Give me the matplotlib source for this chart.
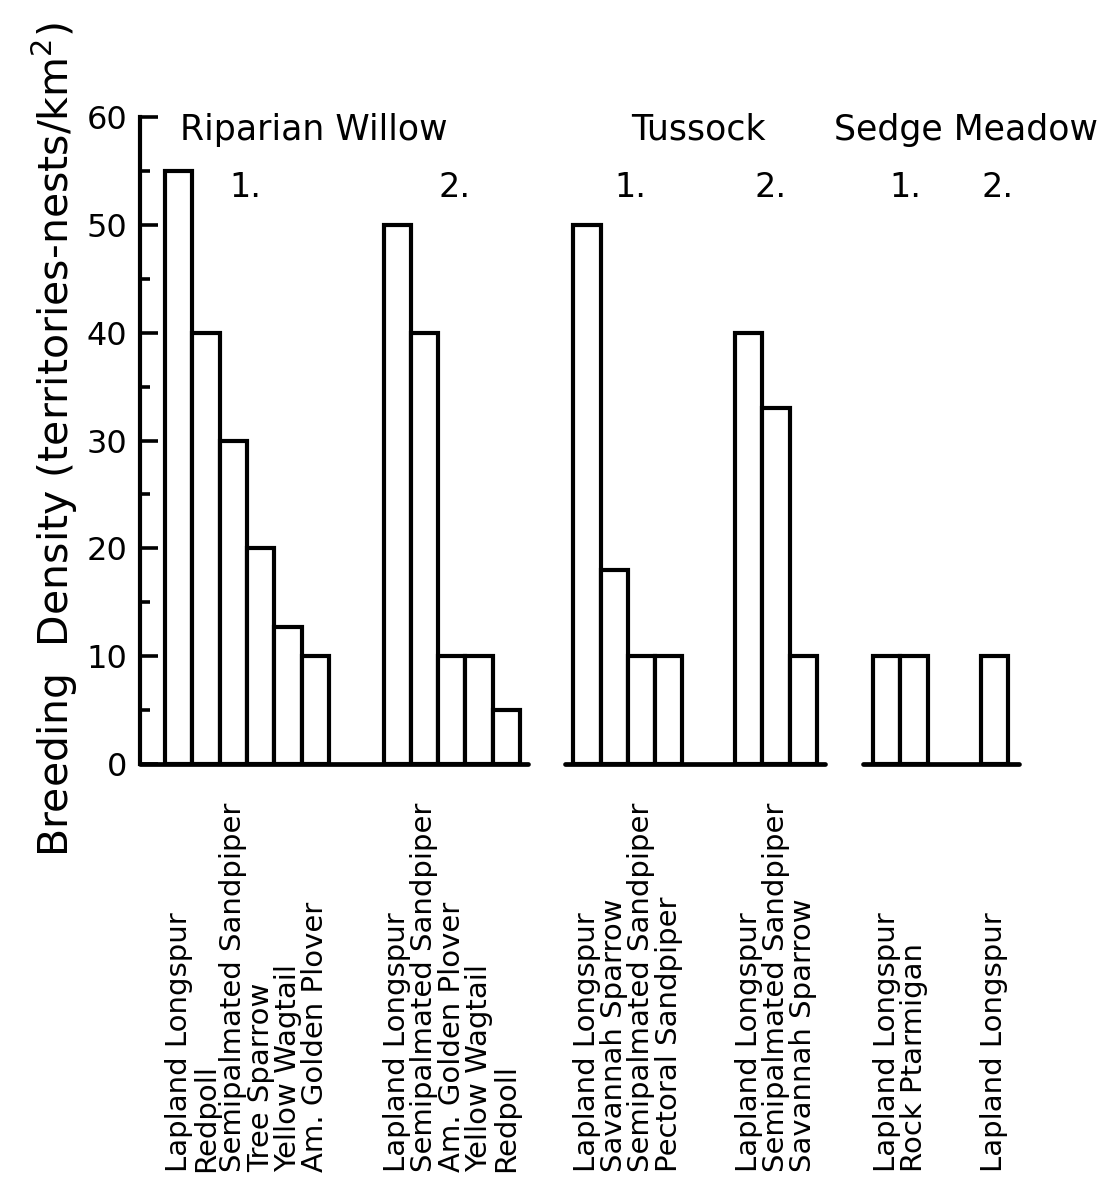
import numpy as np
import matplotlib.pyplot as plt

# --- data (breeding density, territories-nests per km2) ---
rw1_species = ["Lapland Longspur", "Redpoll", "Semipalmated Sandpiper",
               "Tree Sparrow", "Yellow Wagtail", "Am. Golden Plover"]
rw1_density = [55, 40, 30, 20, 12.7, 10]

rw2_species = ["Lapland Longspur", "Semipalmated Sandpiper", "Am. Golden Plover",
               "Yellow Wagtail", "Redpoll"]
rw2_density = [50, 40, 10, 10, 5]

tu1_species = ["Lapland Longspur", "Savannah Sparrow", "Semipalmated Sandpiper",
               "Pectoral Sandpiper"]
tu1_density = [50, 18, 10, 10]

tu2_species = ["Lapland Longspur", "Semipalmated Sandpiper", "Savannah Sparrow"]
tu2_density = [40, 33, 10]

se1_species = ["Lapland Longspur", "Rock Ptarmigan"]
se1_density = [10, 10]

se2_species = ["Lapland Longspur"]
se2_density = [10]

habitats = ["Riparian Willow", "Tussock", "Sedge Meadow"]
site_labels = ["1.", "2."]

# layout (in bar widths): left edge of each site's first bar
groups = [(rw1_species, rw1_density), (rw2_species, rw2_density),
          (tu1_species, tu1_density), (tu2_species, tu2_density),
          (se1_species, se1_density), (se2_species, se2_density)]
group_start = [0.92, 8.92, 15.87, 21.8, 26.85, 30.8]
habitat_x = [6.37, 20.44, 30.26]
site_x = [3.85, 11.54, 17.95, 23.08, 28.02, 31.43]
# broken baseline under each habitat
baseline = [(0, 14.2), (15.57, 25.1), (26.48, 32.2)]

fnt = "DejaVu Sans"

fig = plt.figure(figsize=(11.04, 11.82), dpi=100)
ax = fig.add_axes([0.1268, 0.3536, 0.8655, 0.5474])
ax.set_xlim(0, 35)
ax.set_ylim(0, 60)

for (names, vals), x0 in zip(groups, group_start):
    xs = x0 + np.arange(len(vals))
    ax.bar(xs, vals, width=1, align='edge', facecolor='white',
           edgecolor='black', linewidth=3.0, zorder=2)
    for x, name in zip(xs, names):
        ax.text(x + 0.5, -0.6306, name, transform=ax.get_xaxis_transform(),
                rotation=90, ha='center', va='bottom', fontsize=21,
                family=fnt)

for a, b in baseline:
    ax.plot([a, b], [0, 0], color='black', lw=3.4, clip_on=False,
            solid_capstyle='round', zorder=3)

for name, x in zip(habitats, habitat_x):
    ax.text(x, 58.8, name, ha='center', va='center', fontsize=25, family=fnt)

for i, x in enumerate(site_x):
    ax.text(x, 53.5, site_labels[i % 2], ha='center', va='center',
            fontsize=24, family=fnt)

# axis styling
for s in ['top', 'right', 'bottom']:
    ax.spines[s].set_visible(False)
ax.spines['left'].set_linewidth(3.0)
ax.set_xticks([])
ax.set_yticks(range(0, 61, 10))
ax.set_yticks(range(5, 60, 10), minor=True)
ax.tick_params(axis='y', which='major', direction='in', length=13, width=2.6,
               pad=9, labelsize=23)
ax.tick_params(axis='y', which='minor', direction='in', length=7, width=2.6)
for lab in ax.get_yticklabels():
    lab.set_family(fnt)

fig.text(0.05, 0.628, "Breeding  Density (territories-nests/km$^2$)",
         rotation=90, ha='center', va='center', fontsize=29.5, family=fnt)

fig.savefig("out.png", dpi=100)
